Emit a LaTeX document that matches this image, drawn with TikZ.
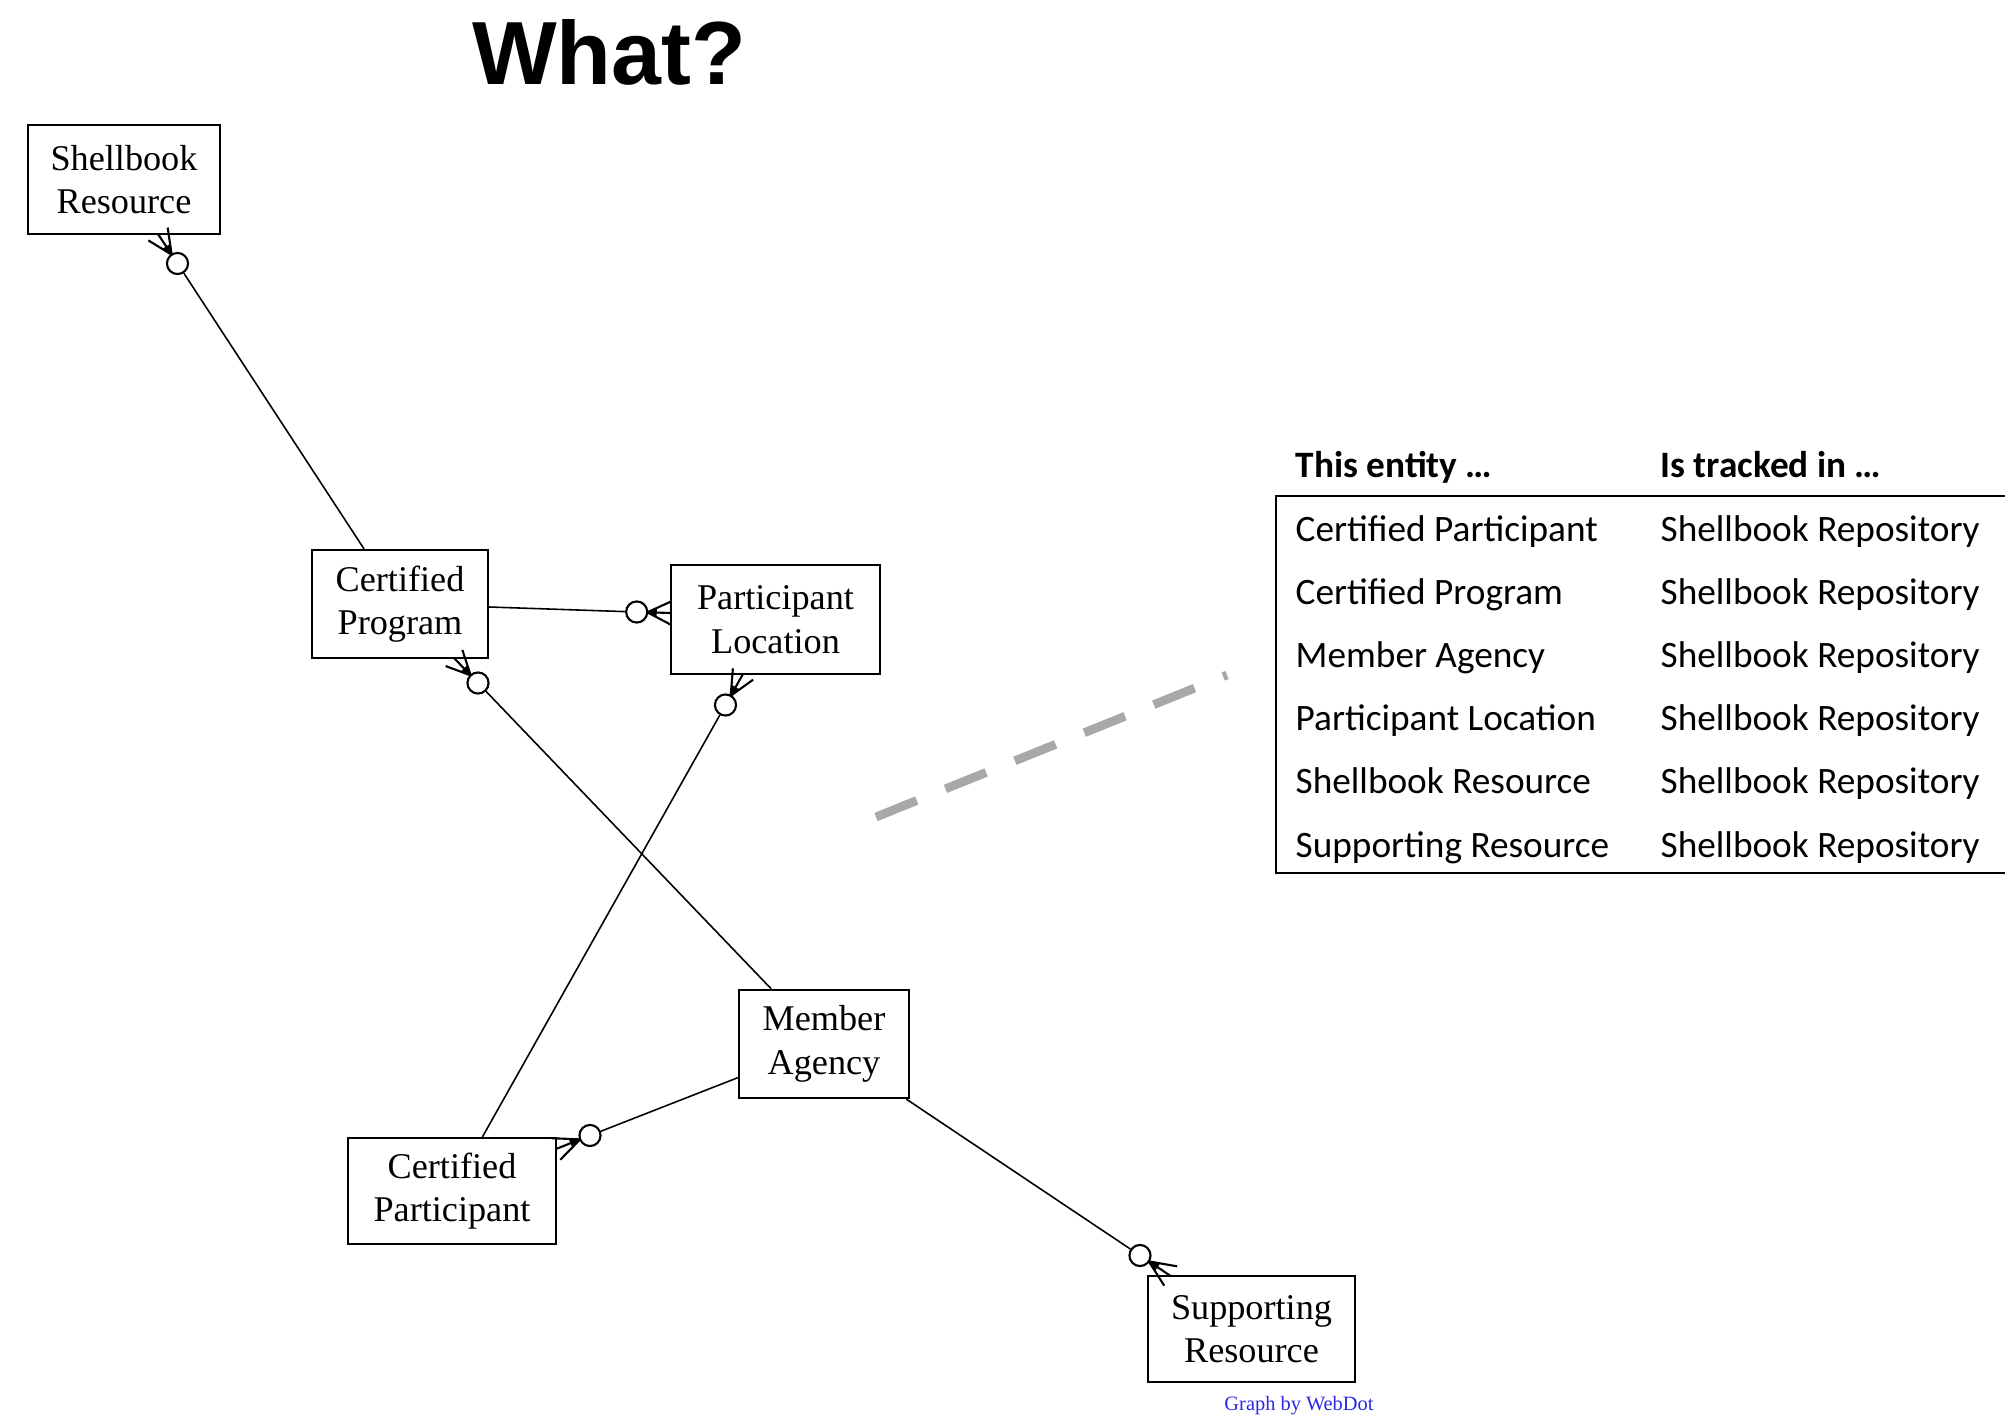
\documentclass[tikz,border=0pt]{standalone}
\usepackage{fontspec}
\setmainfont{Liberation Serif}
\newfontfamily\tablefont{Carlito}
\newfontfamily\titlefont{Liberation Sans}
\usetikzlibrary{calc}
\definecolor{webblue}{RGB}{40,40,230}
\definecolor{dashgray}{RGB}{168,168,168}
\tikzset{
  entity/.style={draw, line width=0.6pt, rectangle, inner sep=0pt, align=center,
    font=\fontsize{10.3}{12.4}\selectfont},
  zero/.style={draw, circle, fill=white, line width=0.6pt, minimum size=6pt, inner sep=0pt},
  rel/.style={line width=0.45pt},
  prong/.style={line width=0.6pt},
  tabtext/.style={anchor=base west, inner sep=0pt, font=\tablefont\fontsize{10.6}{12}\selectfont},
  tabhead/.style={tabtext, font=\tablefont\bfseries\fontsize{10.6}{12}\selectfont},
  tableline/.style={line width=0.7pt},
  pointer/.style={line width=2.5pt, dashgray, dash pattern=on 12.5pt off 8.8pt}
}
\newcommand{\crowft}[2]{%
  \coordinate (#1-apex) at ($(#1)!3pt!(#2)$);
  \coordinate (#1-l) at ($(#2)!3.3pt!90:(#1)$);
  \coordinate (#1-r) at ($(#2)!3.3pt!-90:(#1)$);
  \draw[prong] (#1-apex) -- (#2);
  \draw[prong] (#1-apex) -- (#1-l);
  \draw[prong] (#1-apex) -- (#1-r);
  \fill (#1-apex) -- ($(#1-apex)!0.4!(#1-l)$) -- ($(#1-apex)!0.4!(#1-r)$) -- cycle;
}
\begin{document}
\begin{tikzpicture}[x=0.01cm, y=-0.01cm]
\useasboundingbox (0,0) rectangle (2005,1419);

% title
\node[anchor=base, inner sep=0pt, font=\titlefont\bfseries\fontsize{25.5}{30}\selectfont] (title) at (609,85) {What?};

% entities
\node[entity, minimum width=1.92cm, minimum height=1.09cm] (SR) at (124,179.5) {Shellbook\\Resource};
\node[entity, minimum width=1.76cm, minimum height=1.08cm] (CP) at (400,604) {Certified\\Program};
\node[entity, minimum width=2.09cm, minimum height=1.09cm] (PL) at (775.5,619.5) {Participant\\Location};
\node[entity, minimum width=1.70cm, minimum height=1.08cm] (MA) at (824,1044) {Member\\Agency};
\node[entity, minimum width=2.08cm, minimum height=1.06cm] (CPart) at (452,1191) {Certified\\Participant};
\node[entity, minimum width=2.07cm, minimum height=1.06cm] (SupR) at (1251.5,1329) {Supporting\\Resource};

% zero-or-many markers
\node[zero] (o1) at (177.5,263.5) {};
\node[zero] (o2) at (636.7,612) {};
\node[zero] (o3) at (478,683) {};
\node[zero] (o4) at (725.5,705) {};
\node[zero] (o5) at (590,1135.5) {};
\node[zero] (o6) at (1140,1255.5) {};

\coordinate (b1) at (158,234);
\coordinate (b2) at (671,613);
\coordinate (b3) at (454,658);
\coordinate (b4) at (743,674);
\coordinate (b5) at (556,1149);
\coordinate (b6) at (1170.7,1276);

% relationships
\draw[rel] (CP) -- (o1);
\draw[rel] (CP) -- (o2);
\draw[rel] (MA) -- (o3);
\draw[rel] (CPart) -- (o4);
\draw[rel] (MA) -- (o5);
\draw[rel] (MA) -- (o6);

\crowft{o1}{b1}
\crowft{o2}{b2}
\crowft{o3}{b3}
\crowft{o4}{b4}
\crowft{o5}{b5}
\crowft{o6}{b6}

\node[anchor=base, inner sep=0pt, text=webblue, font=\fontsize{5.8}{7}\selectfont] (credit) at (1299,1410) {Graph by WebDot};

% pointer
\coordinate (p1) at (876,817);
\coordinate (p2) at (1227,675);
\draw[pointer] (p1) -- (p2);

% table
\node[tabhead] (h1) at (1295,478) {This entity \dots};
\node[tabhead] (h2) at (1660,478) {Is tracked in \dots};
\draw[tableline] (2005,496) -- (1276,496) -- (1276,873) -- (2005,873);
\foreach \name [count=\i] in {Certified Participant, Certified Program, Member Agency, Participant Location, Shellbook Resource, Supporting Resource} {
  \node[tabtext] (e\i) at (1295,{478+63.2*\i}) {\name};
  \node[tabtext] (r\i) at (1660,{478+63.2*\i}) {Shellbook Repository};
}
\end{tikzpicture}
\end{document}
